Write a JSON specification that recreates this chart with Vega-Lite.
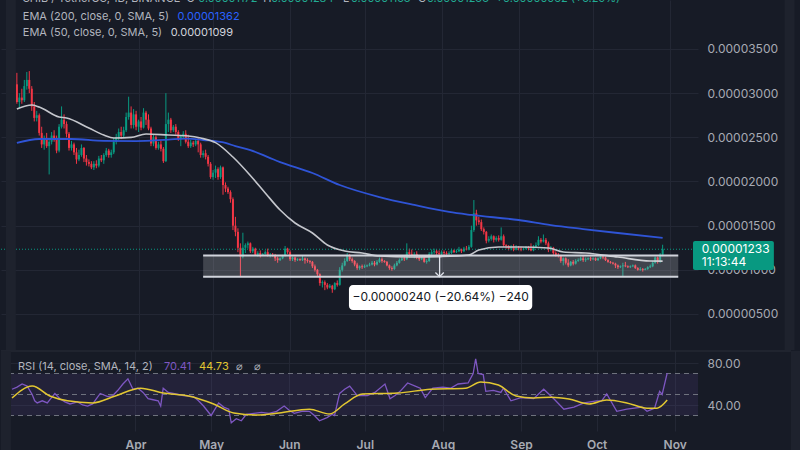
{
"$schema":"https://vega.github.io/schema/vega-lite/v6.json",
"background":"#171b26",
"padding":{"left":0,"top":0,"right":0,"bottom":0},
"spacing":0,
"config":{"view":{"stroke":null},"font":"Inter","concat":{"spacing":0},
 "axis":{"gridColor":"#232734","gridWidth":1,"labelColor":"#a7aab3","labelFont":"Inter","labelFontSize":12,"domain":false,"ticks":false,"labelFlush":false,"labelOverlap":false}},
"datasets":{
"k":[
{"t":"2022-02-11","o":3100e-8,"h":3230e-8,"l":2880e-8,"c":2900e-8},
{"t":"2022-02-12","o":2900e-8,"h":3000e-8,"l":2830e-8,"c":2950e-8},
{"t":"2022-02-13","o":2950e-8,"h":3050e-8,"l":2880e-8,"c":2920e-8},
{"t":"2022-02-14","o":2920e-8,"h":3150e-8,"l":2900e-8,"c":3080e-8},
{"t":"2022-02-15","o":3080e-8,"h":3240e-8,"l":3040e-8,"c":3150e-8},
{"t":"2022-02-16","o":3150e-8,"h":3250e-8,"l":3000e-8,"c":3050e-8},
{"t":"2022-02-17","o":3050e-8,"h":3080e-8,"l":2800e-8,"c":2850e-8},
{"t":"2022-02-18","o":2850e-8,"h":2900e-8,"l":2680e-8,"c":2720e-8},
{"t":"2022-02-19","o":2720e-8,"h":2800e-8,"l":2680e-8,"c":2750e-8},
{"t":"2022-02-20","o":2750e-8,"h":2770e-8,"l":2520e-8,"c":2550e-8},
{"t":"2022-02-21","o":2550e-8,"h":2620e-8,"l":2380e-8,"c":2420e-8},
{"t":"2022-02-22","o":2420e-8,"h":2520e-8,"l":2360e-8,"c":2480e-8},
{"t":"2022-02-23","o":2480e-8,"h":2550e-8,"l":2380e-8,"c":2400e-8},
{"t":"2022-02-24","o":2400e-8,"h":2480e-8,"l":2080e-8,"c":2450e-8},
{"t":"2022-02-25","o":2450e-8,"h":2560e-8,"l":2420e-8,"c":2520e-8},
{"t":"2022-02-26","o":2520e-8,"h":2580e-8,"l":2450e-8,"c":2480e-8},
{"t":"2022-02-27","o":2480e-8,"h":2520e-8,"l":2320e-8,"c":2350e-8},
{"t":"2022-02-28","o":2350e-8,"h":2650e-8,"l":2330e-8,"c":2620e-8},
{"t":"2022-03-01","o":2620e-8,"h":2850e-8,"l":2600e-8,"c":2700e-8},
{"t":"2022-03-02","o":2700e-8,"h":2760e-8,"l":2600e-8,"c":2650e-8},
{"t":"2022-03-03","o":2650e-8,"h":2680e-8,"l":2500e-8,"c":2540e-8},
{"t":"2022-03-04","o":2540e-8,"h":2560e-8,"l":2350e-8,"c":2380e-8},
{"t":"2022-03-05","o":2380e-8,"h":2460e-8,"l":2350e-8,"c":2420e-8},
{"t":"2022-03-06","o":2420e-8,"h":2440e-8,"l":2300e-8,"c":2330e-8},
{"t":"2022-03-07","o":2330e-8,"h":2380e-8,"l":2200e-8,"c":2250e-8},
{"t":"2022-03-08","o":2250e-8,"h":2360e-8,"l":2230e-8,"c":2300e-8},
{"t":"2022-03-09","o":2300e-8,"h":2420e-8,"l":2280e-8,"c":2380e-8},
{"t":"2022-03-10","o":2380e-8,"h":2390e-8,"l":2220e-8,"c":2260e-8},
{"t":"2022-03-11","o":2260e-8,"h":2300e-8,"l":2180e-8,"c":2220e-8},
{"t":"2022-03-12","o":2220e-8,"h":2250e-8,"l":2170e-8,"c":2200e-8},
{"t":"2022-03-13","o":2200e-8,"h":2230e-8,"l":2140e-8,"c":2160e-8},
{"t":"2022-03-14","o":2160e-8,"h":2230e-8,"l":2130e-8,"c":2200e-8},
{"t":"2022-03-15","o":2200e-8,"h":2240e-8,"l":2150e-8,"c":2180e-8},
{"t":"2022-03-16","o":2180e-8,"h":2290e-8,"l":2160e-8,"c":2260e-8},
{"t":"2022-03-17","o":2260e-8,"h":2300e-8,"l":2220e-8,"c":2240e-8},
{"t":"2022-03-18","o":2240e-8,"h":2320e-8,"l":2200e-8,"c":2300e-8},
{"t":"2022-03-19","o":2300e-8,"h":2380e-8,"l":2280e-8,"c":2350e-8},
{"t":"2022-03-20","o":2350e-8,"h":2370e-8,"l":2270e-8,"c":2300e-8},
{"t":"2022-03-21","o":2300e-8,"h":2360e-8,"l":2270e-8,"c":2330e-8},
{"t":"2022-03-22","o":2330e-8,"h":2500e-8,"l":2310e-8,"c":2450e-8},
{"t":"2022-03-23","o":2450e-8,"h":2540e-8,"l":2420e-8,"c":2500e-8},
{"t":"2022-03-24","o":2500e-8,"h":2600e-8,"l":2470e-8,"c":2560e-8},
{"t":"2022-03-25","o":2560e-8,"h":2620e-8,"l":2480e-8,"c":2520e-8},
{"t":"2022-03-26","o":2520e-8,"h":2620e-8,"l":2500e-8,"c":2580e-8},
{"t":"2022-03-27","o":2580e-8,"h":2780e-8,"l":2560e-8,"c":2730e-8},
{"t":"2022-03-28","o":2730e-8,"h":2960e-8,"l":2700e-8,"c":2780e-8},
{"t":"2022-03-29","o":2780e-8,"h":2850e-8,"l":2600e-8,"c":2640e-8},
{"t":"2022-03-30","o":2640e-8,"h":2820e-8,"l":2600e-8,"c":2760e-8},
{"t":"2022-03-31","o":2760e-8,"h":2800e-8,"l":2580e-8,"c":2620e-8},
{"t":"2022-04-01","o":2620e-8,"h":2700e-8,"l":2560e-8,"c":2680e-8},
{"t":"2022-04-02","o":2680e-8,"h":2730e-8,"l":2580e-8,"c":2610e-8},
{"t":"2022-04-03","o":2610e-8,"h":2830e-8,"l":2600e-8,"c":2780e-8},
{"t":"2022-04-04","o":2780e-8,"h":2800e-8,"l":2640e-8,"c":2700e-8},
{"t":"2022-04-05","o":2700e-8,"h":2760e-8,"l":2580e-8,"c":2600e-8},
{"t":"2022-04-06","o":2600e-8,"h":2620e-8,"l":2400e-8,"c":2430e-8},
{"t":"2022-04-07","o":2430e-8,"h":2530e-8,"l":2400e-8,"c":2500e-8},
{"t":"2022-04-08","o":2500e-8,"h":2520e-8,"l":2360e-8,"c":2380e-8},
{"t":"2022-04-09","o":2380e-8,"h":2450e-8,"l":2360e-8,"c":2420e-8},
{"t":"2022-04-10","o":2420e-8,"h":2460e-8,"l":2340e-8,"c":2370e-8},
{"t":"2022-04-11","o":2370e-8,"h":2390e-8,"l":2210e-8,"c":2230e-8},
{"t":"2022-04-12","o":2230e-8,"h":3000e-8,"l":2220e-8,"c":2650e-8},
{"t":"2022-04-13","o":2650e-8,"h":2780e-8,"l":2560e-8,"c":2700e-8},
{"t":"2022-04-14","o":2700e-8,"h":2720e-8,"l":2550e-8,"c":2580e-8},
{"t":"2022-04-15","o":2580e-8,"h":2640e-8,"l":2560e-8,"c":2620e-8},
{"t":"2022-04-16","o":2620e-8,"h":2650e-8,"l":2530e-8,"c":2560e-8},
{"t":"2022-04-17","o":2560e-8,"h":2580e-8,"l":2460e-8,"c":2480e-8},
{"t":"2022-04-18","o":2480e-8,"h":2530e-8,"l":2400e-8,"c":2510e-8},
{"t":"2022-04-19","o":2510e-8,"h":2570e-8,"l":2490e-8,"c":2540e-8},
{"t":"2022-04-20","o":2540e-8,"h":2580e-8,"l":2430e-8,"c":2450e-8},
{"t":"2022-04-21","o":2450e-8,"h":2530e-8,"l":2380e-8,"c":2400e-8},
{"t":"2022-04-22","o":2400e-8,"h":2470e-8,"l":2380e-8,"c":2440e-8},
{"t":"2022-04-23","o":2440e-8,"h":2460e-8,"l":2390e-8,"c":2420e-8},
{"t":"2022-04-24","o":2420e-8,"h":2480e-8,"l":2400e-8,"c":2460e-8},
{"t":"2022-04-25","o":2460e-8,"h":2500e-8,"l":2330e-8,"c":2420e-8},
{"t":"2022-04-26","o":2420e-8,"h":2440e-8,"l":2270e-8,"c":2300e-8},
{"t":"2022-04-27","o":2300e-8,"h":2350e-8,"l":2270e-8,"c":2320e-8},
{"t":"2022-04-28","o":2320e-8,"h":2360e-8,"l":2250e-8,"c":2280e-8},
{"t":"2022-04-29","o":2280e-8,"h":2300e-8,"l":2170e-8,"c":2200e-8},
{"t":"2022-04-30","o":2200e-8,"h":2220e-8,"l":2030e-8,"c":2050e-8},
{"t":"2022-05-01","o":2050e-8,"h":2130e-8,"l":2020e-8,"c":2100e-8},
{"t":"2022-05-02","o":2100e-8,"h":2180e-8,"l":2040e-8,"c":2140e-8},
{"t":"2022-05-03","o":2140e-8,"h":2160e-8,"l":2020e-8,"c":2050e-8},
{"t":"2022-05-04","o":2050e-8,"h":2180e-8,"l":2030e-8,"c":2160e-8},
{"t":"2022-05-05","o":2160e-8,"h":2170e-8,"l":1850e-8,"c":1960e-8},
{"t":"2022-05-06","o":1960e-8,"h":1990e-8,"l":1880e-8,"c":1920e-8},
{"t":"2022-05-07","o":1920e-8,"h":1940e-8,"l":1860e-8,"c":1880e-8},
{"t":"2022-05-08","o":1880e-8,"h":1900e-8,"l":1760e-8,"c":1800e-8},
{"t":"2022-05-09","o":1800e-8,"h":1820e-8,"l":1450e-8,"c":1500e-8},
{"t":"2022-05-10","o":1500e-8,"h":1600e-8,"l":1380e-8,"c":1430e-8},
{"t":"2022-05-11","o":1430e-8,"h":1470e-8,"l":1200e-8,"c":1250e-8},
{"t":"2022-05-12","o":1250e-8,"h":1300e-8,"l":920e-8,"c":1150e-8},
{"t":"2022-05-13","o":1150e-8,"h":1420e-8,"l":1130e-8,"c":1250e-8},
{"t":"2022-05-14","o":1250e-8,"h":1300e-8,"l":1190e-8,"c":1280e-8},
{"t":"2022-05-15","o":1280e-8,"h":1320e-8,"l":1240e-8,"c":1300e-8},
{"t":"2022-05-16","o":1300e-8,"h":1310e-8,"l":1190e-8,"c":1210e-8},
{"t":"2022-05-17","o":1210e-8,"h":1260e-8,"l":1190e-8,"c":1240e-8},
{"t":"2022-05-18","o":1240e-8,"h":1250e-8,"l":1160e-8,"c":1170e-8},
{"t":"2022-05-19","o":1170e-8,"h":1210e-8,"l":1150e-8,"c":1190e-8},
{"t":"2022-05-20","o":1190e-8,"h":1220e-8,"l":1140e-8,"c":1170e-8},
{"t":"2022-05-21","o":1170e-8,"h":1190e-8,"l":1160e-8,"c":1180e-8},
{"t":"2022-05-22","o":1180e-8,"h":1220e-8,"l":1170e-8,"c":1200e-8},
{"t":"2022-05-23","o":1200e-8,"h":1240e-8,"l":1150e-8,"c":1160e-8},
{"t":"2022-05-24","o":1160e-8,"h":1190e-8,"l":1140e-8,"c":1170e-8},
{"t":"2022-05-25","o":1170e-8,"h":1190e-8,"l":1150e-8,"c":1160e-8},
{"t":"2022-05-26","o":1160e-8,"h":1180e-8,"l":1100e-8,"c":1130e-8},
{"t":"2022-05-27","o":1130e-8,"h":1150e-8,"l":1080e-8,"c":1110e-8},
{"t":"2022-05-28","o":1110e-8,"h":1140e-8,"l":1100e-8,"c":1130e-8},
{"t":"2022-05-29","o":1130e-8,"h":1170e-8,"l":1120e-8,"c":1160e-8},
{"t":"2022-05-30","o":1160e-8,"h":1270e-8,"l":1150e-8,"c":1240e-8},
{"t":"2022-05-31","o":1240e-8,"h":1250e-8,"l":1180e-8,"c":1200e-8},
{"t":"2022-06-01","o":1200e-8,"h":1220e-8,"l":1100e-8,"c":1120e-8},
{"t":"2022-06-02","o":1120e-8,"h":1150e-8,"l":1100e-8,"c":1140e-8},
{"t":"2022-06-03","o":1140e-8,"h":1150e-8,"l":1090e-8,"c":1110e-8},
{"t":"2022-06-04","o":1110e-8,"h":1130e-8,"l":1100e-8,"c":1120e-8},
{"t":"2022-06-05","o":1120e-8,"h":1130e-8,"l":1100e-8,"c":1110e-8},
{"t":"2022-06-06","o":1110e-8,"h":1160e-8,"l":1100e-8,"c":1130e-8},
{"t":"2022-06-07","o":1130e-8,"h":1140e-8,"l":1070e-8,"c":1110e-8},
{"t":"2022-06-08","o":1110e-8,"h":1130e-8,"l":1080e-8,"c":1100e-8},
{"t":"2022-06-09","o":1100e-8,"h":1110e-8,"l":1070e-8,"c":1090e-8},
{"t":"2022-06-10","o":1090e-8,"h":1100e-8,"l":1020e-8,"c":1040e-8},
{"t":"2022-06-11","o":1040e-8,"h":1060e-8,"l":980e-8,"c":1000e-8},
{"t":"2022-06-12","o":1000e-8,"h":1010e-8,"l":930e-8,"c":950e-8},
{"t":"2022-06-13","o":950e-8,"h":960e-8,"l":820e-8,"c":850e-8},
{"t":"2022-06-14","o":850e-8,"h":880e-8,"l":800e-8,"c":860e-8},
{"t":"2022-06-15","o":860e-8,"h":880e-8,"l":770e-8,"c":830e-8},
{"t":"2022-06-16","o":830e-8,"h":850e-8,"l":780e-8,"c":800e-8},
{"t":"2022-06-17","o":800e-8,"h":840e-8,"l":790e-8,"c":820e-8},
{"t":"2022-06-18","o":820e-8,"h":830e-8,"l":740e-8,"c":780e-8},
{"t":"2022-06-19","o":780e-8,"h":860e-8,"l":770e-8,"c":850e-8},
{"t":"2022-06-20","o":850e-8,"h":880e-8,"l":810e-8,"c":830e-8},
{"t":"2022-06-21","o":830e-8,"h":1030e-8,"l":820e-8,"c":1000e-8},
{"t":"2022-06-22","o":1000e-8,"h":1080e-8,"l":980e-8,"c":1050e-8},
{"t":"2022-06-23","o":1050e-8,"h":1130e-8,"l":1040e-8,"c":1100e-8},
{"t":"2022-06-24","o":1100e-8,"h":1190e-8,"l":1090e-8,"c":1160e-8},
{"t":"2022-06-25","o":1160e-8,"h":1180e-8,"l":1100e-8,"c":1120e-8},
{"t":"2022-06-26","o":1120e-8,"h":1140e-8,"l":1080e-8,"c":1100e-8},
{"t":"2022-06-27","o":1100e-8,"h":1110e-8,"l":1040e-8,"c":1060e-8},
{"t":"2022-06-28","o":1060e-8,"h":1080e-8,"l":1000e-8,"c":1020e-8},
{"t":"2022-06-29","o":1020e-8,"h":1050e-8,"l":1000e-8,"c":1040e-8},
{"t":"2022-06-30","o":1040e-8,"h":1060e-8,"l":1010e-8,"c":1030e-8},
{"t":"2022-07-01","o":1030e-8,"h":1060e-8,"l":1020e-8,"c":1040e-8},
{"t":"2022-07-02","o":1040e-8,"h":1060e-8,"l":1030e-8,"c":1050e-8},
{"t":"2022-07-03","o":1050e-8,"h":1080e-8,"l":1040e-8,"c":1060e-8},
{"t":"2022-07-04","o":1060e-8,"h":1100e-8,"l":1050e-8,"c":1080e-8},
{"t":"2022-07-05","o":1080e-8,"h":1100e-8,"l":1040e-8,"c":1060e-8},
{"t":"2022-07-06","o":1060e-8,"h":1110e-8,"l":1050e-8,"c":1090e-8},
{"t":"2022-07-07","o":1090e-8,"h":1140e-8,"l":1080e-8,"c":1120e-8},
{"t":"2022-07-08","o":1120e-8,"h":1140e-8,"l":1080e-8,"c":1100e-8},
{"t":"2022-07-09","o":1100e-8,"h":1110e-8,"l":1080e-8,"c":1090e-8},
{"t":"2022-07-10","o":1090e-8,"h":1100e-8,"l":1040e-8,"c":1050e-8},
{"t":"2022-07-11","o":1050e-8,"h":1060e-8,"l":1000e-8,"c":1020e-8},
{"t":"2022-07-12","o":1020e-8,"h":1040e-8,"l":990e-8,"c":1010e-8},
{"t":"2022-07-13","o":1010e-8,"h":1070e-8,"l":1000e-8,"c":1050e-8},
{"t":"2022-07-14","o":1050e-8,"h":1100e-8,"l":1040e-8,"c":1080e-8},
{"t":"2022-07-15","o":1080e-8,"h":1130e-8,"l":1070e-8,"c":1110e-8},
{"t":"2022-07-16","o":1110e-8,"h":1150e-8,"l":1100e-8,"c":1130e-8},
{"t":"2022-07-17","o":1130e-8,"h":1160e-8,"l":1100e-8,"c":1120e-8},
{"t":"2022-07-18","o":1120e-8,"h":1300e-8,"l":1110e-8,"c":1200e-8},
{"t":"2022-07-19","o":1200e-8,"h":1240e-8,"l":1140e-8,"c":1180e-8},
{"t":"2022-07-20","o":1180e-8,"h":1230e-8,"l":1150e-8,"c":1170e-8},
{"t":"2022-07-21","o":1170e-8,"h":1200e-8,"l":1130e-8,"c":1180e-8},
{"t":"2022-07-22","o":1180e-8,"h":1210e-8,"l":1120e-8,"c":1140e-8},
{"t":"2022-07-23","o":1140e-8,"h":1160e-8,"l":1100e-8,"c":1120e-8},
{"t":"2022-07-24","o":1120e-8,"h":1160e-8,"l":1110e-8,"c":1140e-8},
{"t":"2022-07-25","o":1140e-8,"h":1150e-8,"l":1080e-8,"c":1090e-8},
{"t":"2022-07-26","o":1090e-8,"h":1120e-8,"l":1070e-8,"c":1100e-8},
{"t":"2022-07-27","o":1100e-8,"h":1200e-8,"l":1090e-8,"c":1180e-8},
{"t":"2022-07-28","o":1180e-8,"h":1230e-8,"l":1170e-8,"c":1200e-8},
{"t":"2022-07-29","o":1200e-8,"h":1240e-8,"l":1180e-8,"c":1210e-8},
{"t":"2022-07-30","o":1210e-8,"h":1230e-8,"l":1170e-8,"c":1190e-8},
{"t":"2022-07-31","o":1190e-8,"h":1220e-8,"l":1160e-8,"c":1180e-8},
{"t":"2022-08-01","o":1180e-8,"h":1220e-8,"l":1160e-8,"c":1200e-8},
{"t":"2022-08-02","o":1200e-8,"h":1220e-8,"l":1150e-8,"c":1190e-8},
{"t":"2022-08-03","o":1190e-8,"h":1210e-8,"l":1170e-8,"c":1180e-8},
{"t":"2022-08-04","o":1180e-8,"h":1210e-8,"l":1170e-8,"c":1190e-8},
{"t":"2022-08-05","o":1190e-8,"h":1240e-8,"l":1180e-8,"c":1220e-8},
{"t":"2022-08-06","o":1220e-8,"h":1230e-8,"l":1190e-8,"c":1200e-8},
{"t":"2022-08-07","o":1200e-8,"h":1230e-8,"l":1190e-8,"c":1210e-8},
{"t":"2022-08-08","o":1210e-8,"h":1260e-8,"l":1200e-8,"c":1230e-8},
{"t":"2022-08-09","o":1230e-8,"h":1240e-8,"l":1190e-8,"c":1210e-8},
{"t":"2022-08-10","o":1210e-8,"h":1260e-8,"l":1200e-8,"c":1240e-8},
{"t":"2022-08-11","o":1240e-8,"h":1270e-8,"l":1220e-8,"c":1230e-8},
{"t":"2022-08-12","o":1230e-8,"h":1280e-8,"l":1220e-8,"c":1260e-8},
{"t":"2022-08-13","o":1260e-8,"h":1500e-8,"l":1250e-8,"c":1450e-8},
{"t":"2022-08-14","o":1450e-8,"h":1790e-8,"l":1430e-8,"c":1640e-8},
{"t":"2022-08-15","o":1640e-8,"h":1680e-8,"l":1500e-8,"c":1560e-8},
{"t":"2022-08-16","o":1560e-8,"h":1600e-8,"l":1510e-8,"c":1540e-8},
{"t":"2022-08-17","o":1540e-8,"h":1570e-8,"l":1440e-8,"c":1460e-8},
{"t":"2022-08-18","o":1460e-8,"h":1480e-8,"l":1400e-8,"c":1430e-8},
{"t":"2022-08-19","o":1430e-8,"h":1440e-8,"l":1300e-8,"c":1330e-8},
{"t":"2022-08-20","o":1330e-8,"h":1380e-8,"l":1310e-8,"c":1350e-8},
{"t":"2022-08-21","o":1350e-8,"h":1400e-8,"l":1330e-8,"c":1380e-8},
{"t":"2022-08-22","o":1380e-8,"h":1390e-8,"l":1310e-8,"c":1340e-8},
{"t":"2022-08-23","o":1340e-8,"h":1380e-8,"l":1320e-8,"c":1360e-8},
{"t":"2022-08-24","o":1360e-8,"h":1390e-8,"l":1320e-8,"c":1340e-8},
{"t":"2022-08-25","o":1340e-8,"h":1480e-8,"l":1330e-8,"c":1380e-8},
{"t":"2022-08-26","o":1380e-8,"h":1400e-8,"l":1260e-8,"c":1280e-8},
{"t":"2022-08-27","o":1280e-8,"h":1290e-8,"l":1240e-8,"c":1270e-8},
{"t":"2022-08-28","o":1270e-8,"h":1280e-8,"l":1220e-8,"c":1240e-8},
{"t":"2022-08-29","o":1240e-8,"h":1280e-8,"l":1220e-8,"c":1260e-8},
{"t":"2022-08-30","o":1260e-8,"h":1290e-8,"l":1210e-8,"c":1230e-8},
{"t":"2022-08-31","o":1230e-8,"h":1280e-8,"l":1220e-8,"c":1250e-8},
{"t":"2022-09-01","o":1250e-8,"h":1270e-8,"l":1220e-8,"c":1240e-8},
{"t":"2022-09-02","o":1240e-8,"h":1260e-8,"l":1210e-8,"c":1230e-8},
{"t":"2022-09-03","o":1230e-8,"h":1250e-8,"l":1220e-8,"c":1240e-8},
{"t":"2022-09-04","o":1240e-8,"h":1270e-8,"l":1230e-8,"c":1260e-8},
{"t":"2022-09-05","o":1260e-8,"h":1270e-8,"l":1220e-8,"c":1240e-8},
{"t":"2022-09-06","o":1240e-8,"h":1300e-8,"l":1210e-8,"c":1220e-8},
{"t":"2022-09-07","o":1220e-8,"h":1280e-8,"l":1210e-8,"c":1260e-8},
{"t":"2022-09-08","o":1260e-8,"h":1310e-8,"l":1250e-8,"c":1280e-8},
{"t":"2022-09-09","o":1280e-8,"h":1380e-8,"l":1270e-8,"c":1340e-8},
{"t":"2022-09-10","o":1340e-8,"h":1360e-8,"l":1300e-8,"c":1320e-8},
{"t":"2022-09-11","o":1320e-8,"h":1400e-8,"l":1310e-8,"c":1340e-8},
{"t":"2022-09-12","o":1340e-8,"h":1360e-8,"l":1280e-8,"c":1300e-8},
{"t":"2022-09-13","o":1300e-8,"h":1320e-8,"l":1200e-8,"c":1230e-8},
{"t":"2022-09-14","o":1230e-8,"h":1270e-8,"l":1210e-8,"c":1250e-8},
{"t":"2022-09-15","o":1250e-8,"h":1260e-8,"l":1170e-8,"c":1190e-8},
{"t":"2022-09-16","o":1190e-8,"h":1210e-8,"l":1150e-8,"c":1170e-8},
{"t":"2022-09-17","o":1170e-8,"h":1190e-8,"l":1140e-8,"c":1160e-8},
{"t":"2022-09-18","o":1160e-8,"h":1170e-8,"l":1080e-8,"c":1100e-8},
{"t":"2022-09-19","o":1100e-8,"h":1140e-8,"l":1050e-8,"c":1130e-8},
{"t":"2022-09-20","o":1130e-8,"h":1140e-8,"l":1060e-8,"c":1080e-8},
{"t":"2022-09-21","o":1080e-8,"h":1120e-8,"l":1030e-8,"c":1050e-8},
{"t":"2022-09-22","o":1050e-8,"h":1100e-8,"l":1040e-8,"c":1090e-8},
{"t":"2022-09-23","o":1090e-8,"h":1110e-8,"l":1050e-8,"c":1070e-8},
{"t":"2022-09-24","o":1070e-8,"h":1120e-8,"l":1060e-8,"c":1100e-8},
{"t":"2022-09-25","o":1100e-8,"h":1130e-8,"l":1090e-8,"c":1110e-8},
{"t":"2022-09-26","o":1110e-8,"h":1150e-8,"l":1100e-8,"c":1130e-8},
{"t":"2022-09-27","o":1130e-8,"h":1160e-8,"l":1090e-8,"c":1110e-8},
{"t":"2022-09-28","o":1110e-8,"h":1140e-8,"l":1090e-8,"c":1120e-8},
{"t":"2022-09-29","o":1120e-8,"h":1140e-8,"l":1110e-8,"c":1130e-8},
{"t":"2022-09-30","o":1130e-8,"h":1150e-8,"l":1100e-8,"c":1120e-8},
{"t":"2022-10-01","o":1120e-8,"h":1140e-8,"l":1110e-8,"c":1130e-8},
{"t":"2022-10-02","o":1130e-8,"h":1140e-8,"l":1100e-8,"c":1110e-8},
{"t":"2022-10-03","o":1110e-8,"h":1140e-8,"l":1100e-8,"c":1130e-8},
{"t":"2022-10-04","o":1130e-8,"h":1170e-8,"l":1120e-8,"c":1150e-8},
{"t":"2022-10-05","o":1150e-8,"h":1160e-8,"l":1120e-8,"c":1140e-8},
{"t":"2022-10-06","o":1140e-8,"h":1150e-8,"l":1100e-8,"c":1110e-8},
{"t":"2022-10-07","o":1110e-8,"h":1120e-8,"l":1080e-8,"c":1090e-8},
{"t":"2022-10-08","o":1090e-8,"h":1100e-8,"l":1070e-8,"c":1080e-8},
{"t":"2022-10-09","o":1080e-8,"h":1090e-8,"l":1060e-8,"c":1070e-8},
{"t":"2022-10-10","o":1070e-8,"h":1080e-8,"l":1020e-8,"c":1050e-8},
{"t":"2022-10-11","o":1050e-8,"h":1060e-8,"l":1010e-8,"c":1030e-8},
{"t":"2022-10-12","o":1030e-8,"h":1050e-8,"l":1020e-8,"c":1040e-8},
{"t":"2022-10-13","o":1040e-8,"h":1080e-8,"l":930e-8,"c":1050e-8},
{"t":"2022-10-14","o":1050e-8,"h":1090e-8,"l":1030e-8,"c":1040e-8},
{"t":"2022-10-15","o":1040e-8,"h":1050e-8,"l":1020e-8,"c":1030e-8},
{"t":"2022-10-16","o":1030e-8,"h":1050e-8,"l":1020e-8,"c":1040e-8},
{"t":"2022-10-17","o":1040e-8,"h":1060e-8,"l":1030e-8,"c":1050e-8},
{"t":"2022-10-18","o":1050e-8,"h":1060e-8,"l":1010e-8,"c":1020e-8},
{"t":"2022-10-19","o":1020e-8,"h":1030e-8,"l":990e-8,"c":1000e-8},
{"t":"2022-10-20","o":1000e-8,"h":1030e-8,"l":990e-8,"c":1010e-8},
{"t":"2022-10-21","o":1010e-8,"h":1020e-8,"l":980e-8,"c":1000e-8},
{"t":"2022-10-22","o":1000e-8,"h":1020e-8,"l":995e-8,"c":1010e-8},
{"t":"2022-10-23","o":1010e-8,"h":1040e-8,"l":1000e-8,"c":1030e-8},
{"t":"2022-10-24","o":1030e-8,"h":1060e-8,"l":1020e-8,"c":1040e-8},
{"t":"2022-10-25","o":1040e-8,"h":1100e-8,"l":1030e-8,"c":1080e-8},
{"t":"2022-10-26","o":1080e-8,"h":1150e-8,"l":1070e-8,"c":1140e-8},
{"t":"2022-10-27","o":1140e-8,"h":1150e-8,"l":1070e-8,"c":1090e-8},
{"t":"2022-10-28","o":1090e-8,"h":1190e-8,"l":1080e-8,"c":1172e-8},
{"t":"2022-10-29","o":1172e-8,"h":1284e-8,"l":1153e-8,"c":1233e-8}
],
"e200":[
{"t":"2022-02-11","v":2436e-8},{"t":"2022-02-20","v":2481e-8},{"t":"2022-03-05","v":2481e-8},{"t":"2022-03-18","v":2460e-8},{"t":"2022-03-31","v":2458e-8},{"t":"2022-04-13","v":2475e-8},{"t":"2022-04-20","v":2485e-8},{"t":"2022-04-27","v":2470e-8},{"t":"2022-05-06","v":2436e-8},{"t":"2022-05-10","v":2400e-8},{"t":"2022-05-16","v":2356e-8},{"t":"2022-05-24","v":2265e-8},{"t":"2022-05-28","v":2220e-8},{"t":"2022-06-10","v":2096e-8},{"t":"2022-06-21","v":1960e-8},{"t":"2022-07-07","v":1824e-8},{"t":"2022-07-21","v":1734e-8},{"t":"2022-08-04","v":1655e-8},{"t":"2022-08-13","v":1621e-8},{"t":"2022-09-01","v":1564e-8},{"t":"2022-09-14","v":1507e-8},{"t":"2022-09-27","v":1462e-8},{"t":"2022-10-11","v":1417e-8},{"t":"2022-10-29","v":1362e-8}
],
"e50":[
{"t":"2022-02-11","v":2821e-8},{"t":"2022-02-17","v":2866e-8},{"t":"2022-02-20","v":2843e-8},{"t":"2022-02-28","v":2730e-8},{"t":"2022-03-03","v":2719e-8},{"t":"2022-03-12","v":2605e-8},{"t":"2022-03-18","v":2526e-8},{"t":"2022-03-22","v":2492e-8},{"t":"2022-03-29","v":2500e-8},{"t":"2022-04-04","v":2538e-8},{"t":"2022-04-13","v":2526e-8},{"t":"2022-04-21","v":2515e-8},{"t":"2022-04-26","v":2492e-8},{"t":"2022-05-02","v":2440e-8},{"t":"2022-05-09","v":2277e-8},{"t":"2022-05-16","v":2068e-8},{"t":"2022-05-22","v":1870e-8},{"t":"2022-05-28","v":1677e-8},{"t":"2022-06-03","v":1530e-8},{"t":"2022-06-10","v":1417e-8},{"t":"2022-06-16","v":1281e-8},{"t":"2022-06-23","v":1213e-8},{"t":"2022-06-30","v":1190e-8},{"t":"2022-07-07","v":1156e-8},{"t":"2022-07-20","v":1145e-8},{"t":"2022-08-01","v":1150e-8},{"t":"2022-08-12","v":1168e-8},{"t":"2022-08-16","v":1224e-8},{"t":"2022-08-24","v":1258e-8},{"t":"2022-09-02","v":1258e-8},{"t":"2022-09-13","v":1247e-8},{"t":"2022-09-19","v":1202e-8},{"t":"2022-09-28","v":1190e-8},{"t":"2022-10-11","v":1145e-8},{"t":"2022-10-24","v":1100e-8},{"t":"2022-10-29","v":1099e-8}
],
"rsi":[
{"t":"2022-02-11","r":55},{"t":"2022-02-13","r":57},{"t":"2022-02-15","r":60},{"t":"2022-02-17","r":58},{"t":"2022-02-19","r":50},{"t":"2022-02-20","r":44},{"t":"2022-02-21","r":42},{"t":"2022-02-23","r":44},{"t":"2022-02-25","r":42},{"t":"2022-02-28","r":51},{"t":"2022-03-02","r":46},{"t":"2022-03-04","r":43},{"t":"2022-03-06","r":41},{"t":"2022-03-09","r":43},{"t":"2022-03-11","r":40},{"t":"2022-03-13","r":39},{"t":"2022-03-15","r":41},{"t":"2022-03-18","r":51},{"t":"2022-03-21","r":48},{"t":"2022-03-23","r":49},{"t":"2022-03-25","r":54},{"t":"2022-03-27","r":60},{"t":"2022-03-29","r":65},{"t":"2022-03-31","r":55},{"t":"2022-04-02","r":56},{"t":"2022-04-04","r":52},{"t":"2022-04-06","r":46},{"t":"2022-04-08","r":45},{"t":"2022-04-10","r":44},{"t":"2022-04-11","r":39},{"t":"2022-04-12","r":56},{"t":"2022-04-14","r":52},{"t":"2022-04-18","r":50},{"t":"2022-04-20","r":49},{"t":"2022-04-24","r":48},{"t":"2022-04-26","r":44},{"t":"2022-04-28","r":39},{"t":"2022-05-01","r":30},{"t":"2022-05-04","r":42},{"t":"2022-05-06","r":38},{"t":"2022-05-08","r":36},{"t":"2022-05-09","r":23},{"t":"2022-05-11","r":27},{"t":"2022-05-13","r":25},{"t":"2022-05-15","r":31},{"t":"2022-05-18","r":32},{"t":"2022-05-21","r":33},{"t":"2022-05-24","r":32},{"t":"2022-05-27","r":34},{"t":"2022-05-30","r":39},{"t":"2022-06-01","r":35},{"t":"2022-06-03","r":32},{"t":"2022-06-06","r":34},{"t":"2022-06-09","r":34},{"t":"2022-06-11","r":30},{"t":"2022-06-13","r":25},{"t":"2022-06-16","r":28},{"t":"2022-06-18","r":31},{"t":"2022-06-19","r":30},{"t":"2022-06-21","r":51},{"t":"2022-06-23","r":55},{"t":"2022-06-25","r":58},{"t":"2022-06-27","r":52},{"t":"2022-06-28","r":49},{"t":"2022-07-02","r":49},{"t":"2022-07-05","r":52},{"t":"2022-07-09","r":60},{"t":"2022-07-11","r":46},{"t":"2022-07-13","r":49},{"t":"2022-07-15","r":53},{"t":"2022-07-18","r":61},{"t":"2022-07-21","r":58},{"t":"2022-07-23","r":56},{"t":"2022-07-25","r":47},{"t":"2022-07-28","r":56},{"t":"2022-08-01","r":57},{"t":"2022-08-04","r":56},{"t":"2022-08-07","r":60},{"t":"2022-08-11","r":61},{"t":"2022-08-13","r":70},{"t":"2022-08-14","r":84},{"t":"2022-08-15","r":70},{"t":"2022-08-17","r":69},{"t":"2022-08-18","r":53},{"t":"2022-08-21","r":54},{"t":"2022-08-24","r":52},{"t":"2022-08-25","r":56},{"t":"2022-08-28","r":44},{"t":"2022-09-01","r":47},{"t":"2022-09-06","r":46},{"t":"2022-09-10","r":55},{"t":"2022-09-14","r":46},{"t":"2022-09-18","r":36},{"t":"2022-09-22","r":38},{"t":"2022-09-26","r":42},{"t":"2022-10-01","r":44},{"t":"2022-10-03","r":44},{"t":"2022-10-05","r":50.5},{"t":"2022-10-09","r":34},{"t":"2022-10-13","r":36},{"t":"2022-10-16","r":37},{"t":"2022-10-19","r":38},{"t":"2022-10-21","r":34},{"t":"2022-10-24","r":37},{"t":"2022-10-26","r":53},{"t":"2022-10-27","r":50},{"t":"2022-10-29","r":70.41}
],
"rsma":[
{"t":"2022-02-11","r":46.7},{"t":"2022-02-19","r":58},{"t":"2022-02-26","r":48.6},{"t":"2022-03-05","r":44},{"t":"2022-03-15","r":42},{"t":"2022-03-24","r":48.6},{"t":"2022-04-03","r":56},{"t":"2022-04-12","r":51.4},{"t":"2022-04-22","r":48.6},{"t":"2022-05-02","r":41},{"t":"2022-05-10","r":32.4},{"t":"2022-05-19","r":30.5},{"t":"2022-05-28","r":32.4},{"t":"2022-06-09","r":36},{"t":"2022-06-17","r":31.4},{"t":"2022-06-23","r":41},{"t":"2022-06-30","r":50.5},{"t":"2022-07-14","r":51.4},{"t":"2022-07-27","r":55},{"t":"2022-08-10","r":56},{"t":"2022-08-16","r":62},{"t":"2022-08-23","r":59},{"t":"2022-08-30","r":48.6},{"t":"2022-09-06","r":46.7},{"t":"2022-09-13","r":47.5},{"t":"2022-09-20","r":45.7},{"t":"2022-09-28","r":41},{"t":"2022-10-05","r":44.8},{"t":"2022-10-13","r":42},{"t":"2022-10-21","r":37},{"t":"2022-10-25","r":37},{"t":"2022-10-29","r":44.73}
],
"hdr":[
{"t":"2022-02-13T09:00Z","p":4.07e-5,"s":"SHIB / TetherUS, 1D, BINANCE","k":"g"},
{"t":"2022-04-20T06:00Z","p":4.07e-5,"s":"O","k":"g"},
{"t":"2022-04-25T00:30Z","p":4.07e-5,"s":"0.00001172","k":"u"},
{"t":"2022-05-21T05:00Z","p":4.07e-5,"s":"H","k":"g"},
{"t":"2022-05-24T09:00Z","p":4.07e-5,"s":"0.00001284","k":"u"},
{"t":"2022-06-22T08:00Z","p":4.07e-5,"s":"L","k":"g"},
{"t":"2022-06-25T12:00Z","p":4.07e-5,"s":"0.00001153","k":"u"},
{"t":"2022-07-22T12:00Z","p":4.07e-5,"s":"C","k":"g"},
{"t":"2022-07-26T02:00Z","p":4.07e-5,"s":"0.00001233","k":"u"},
{"t":"2022-08-22T20:00Z","p":4.07e-5,"s":"+0.00000062 (+5.29%)","k":"u"},
{"t":"2022-02-13T09:00Z","p":3.862e-5,"s":"EMA (200, close, 0, SMA, 5)","k":"g"},
{"t":"2022-04-16T16:00Z","p":3.862e-5,"s":"0.00001362","k":"b"},
{"t":"2022-02-13T09:00Z","p":3.681e-5,"s":"EMA (50, close, 0, SMA, 5)","k":"g"},
{"t":"2022-04-13T22:00Z","p":3.681e-5,"s":"0.00001099","k":"w"}
],
"rh":[
{"t":"2022-02-13T09:00Z","p":76.2,"s":"RSI (14, close, SMA, 14, 2)","k":"g"},
{"t":"2022-04-12T07:00Z","p":76.2,"s":"70.41","k":"p"},
{"t":"2022-04-26T05:00Z","p":76.2,"s":"44.73","k":"y"},
{"t":"2022-05-10T21:00Z","p":76.2,"s":"⌀","k":"g"},
{"t":"2022-05-18T01:00Z","p":76.2,"s":"⌀","k":"g"}
],
"box":[{"a":"2022-04-27T00:00Z","b":"2022-11-04T07:00Z","m":"2022-07-31T05:00Z","hi":1.1628e-5,"lo":9.228e-6}],
"lab":[{"a":"2022-06-24T17:00Z","b":"2022-09-06T12:00Z","m":"2022-07-31T15:00Z","lo":5.45e-6,"hi":8.28e-6,"p":6.87e-6,"s":"−0.00000240 (−20.64%) −240"}],
"tag":[{"a":"2022-11-10T05:30Z","b":"2022-12-12T19:00Z","m":"2022-11-13T19:00Z","lo":9.98e-6,"hi":1.326e-5,"p":1.233e-5,"q":1.09e-5,"s":"0.00001233","u":"11:13:44"}],
"lv":[{"v":70},{"v":50},{"v":30}]
},
"vconcat":[
{
"width":697,"height":350,
"layer":[
{"data":{"name":"k"},"mark":{"type":"rule","strokeWidth":1},
 "encoding":{
  "x":{"field":"t","type":"temporal","title":null,"scale":{"type":"utc","nice":false,"domain":[{"year":2022,"month":2,"date":6,"hours":15,"utc":true},{"year":2022,"month":11,"date":10,"hours":5,"minutes":30,"utc":true}]},
   "axis":{"values":[{"year":2022,"month":4,"date":1,"utc":true},{"year":2022,"month":5,"date":1,"utc":true},{"year":2022,"month":6,"date":1,"utc":true},{"year":2022,"month":7,"date":1,"utc":true},{"year":2022,"month":8,"date":1,"utc":true},{"year":2022,"month":9,"date":1,"utc":true},{"year":2022,"month":10,"date":1,"utc":true},{"year":2022,"month":11,"date":1,"utc":true}],"labels":false,"grid":true,"title":null}},
  "y":{"field":"l","type":"quantitative","title":null,"scale":{"domain":[9.24e-7,4.0547e-5],"nice":false,"zero":false},
   "axis":{"orient":"right","values":[5e-6,1e-5,1.5e-5,2e-5,2.5e-5,3e-5,3.5e-5],"format":".8f","grid":true,"labelPadding":9,"title":null}},
  "y2":{"field":"h"},
  "color":{"condition":{"test":"datum.c>=datum.o","value":"#089981"},"value":"#f23645"}}},
{"data":{"values":[{}]},"mark":{"type":"rule","color":"#089981","strokeDash":[1,2],"strokeWidth":1},
 "encoding":{"y":{"datum":1.233e-5,"type":"quantitative"}}},
{"data":{"name":"k"},"mark":{"type":"bar","width":2},
 "encoding":{"x":{"field":"t","type":"temporal","title":null},"y":{"field":"o","type":"quantitative","title":null},"y2":{"field":"c"},
  "color":{"condition":{"test":"datum.c>=datum.o","value":"#089981"},"value":"#f23645"}}},
{"data":{"name":"e200"},"mark":{"type":"line","color":"#2f54d6","strokeWidth":1.8,"interpolate":"monotone"},
 "encoding":{"x":{"field":"t","type":"temporal","title":null},"y":{"field":"v","type":"quantitative","title":null}}},
{"data":{"name":"e50"},"mark":{"type":"line","color":"#c4c6cc","strokeWidth":1.6,"interpolate":"monotone"},
 "encoding":{"x":{"field":"t","type":"temporal","title":null},"y":{"field":"v","type":"quantitative","title":null}}},
{"data":{"name":"box"},"mark":{"type":"rect","color":"#ffffff","opacity":0.18},
 "encoding":{"x":{"field":"a","type":"temporal","title":null},"x2":{"field":"b"},"y":{"field":"lo","type":"quantitative","title":null},"y2":{"field":"hi"}}},
{"data":{"name":"box"},"mark":{"type":"rule","color":"#d1d4dc","strokeWidth":2},
 "encoding":{"x":{"field":"a","type":"temporal","title":null},"x2":{"field":"b"},"y":{"field":"lo","type":"quantitative","title":null}}},
{"data":{"name":"box"},"mark":{"type":"rule","color":"#d1d4dc","strokeWidth":2},
 "encoding":{"x":{"field":"a","type":"temporal","title":null},"x2":{"field":"b"},"y":{"field":"hi","type":"quantitative","title":null}}},
{"data":{"name":"box"},"mark":{"type":"rule","color":"#e0e3eb","strokeWidth":1.3},
 "encoding":{"x":{"field":"m","type":"temporal","title":null},"y":{"field":"hi","type":"quantitative","title":null},"y2":{"field":"lo"}}},
{"data":{"name":"box"},"mark":{"type":"point","shape":"M-1,-1L0,0L1,-1","filled":false,"color":"#e0e3eb","strokeWidth":1.3,"size":70,"opacity":1},
 "encoding":{"x":{"field":"m","type":"temporal","title":null},"y":{"field":"lo","type":"quantitative","title":null}}},
{"data":{"name":"lab"},"mark":{"type":"rect","color":"#ffffff","cornerRadius":4},
 "encoding":{"x":{"field":"a","type":"temporal","title":null},"x2":{"field":"b"},"y":{"field":"lo","type":"quantitative","title":null},"y2":{"field":"hi"}}},
{"data":{"name":"lab"},"mark":{"type":"text","color":"#131722","fontSize":12,"font":"Inter","align":"center","baseline":"middle"},
 "encoding":{"x":{"field":"m","type":"temporal","title":null},"y":{"field":"p","type":"quantitative","title":null},"text":{"field":"s"}}},
{"data":{"name":"tag"},"mark":{"type":"rect","color":"#089981","cornerRadius":2},
 "encoding":{"x":{"field":"a","type":"temporal","title":null},"x2":{"field":"b"},"y":{"field":"lo","type":"quantitative","title":null},"y2":{"field":"hi"}}},
{"data":{"name":"tag"},"mark":{"type":"text","color":"#ffffff","fontSize":12,"font":"Inter","align":"left","baseline":"middle"},
 "encoding":{"x":{"field":"m","type":"temporal","title":null},"y":{"field":"p","type":"quantitative","title":null},"text":{"field":"s"}}},
{"data":{"name":"tag"},"mark":{"type":"text","color":"#ffffff","fontSize":12,"font":"Inter","align":"left","baseline":"middle"},
 "encoding":{"x":{"field":"m","type":"temporal","title":null},"y":{"field":"q","type":"quantitative","title":null},"text":{"field":"u"}}},
{"data":{"name":"hdr"},"mark":{"type":"text","align":"left","baseline":"middle","fontSize":11,"font":"Inter","clip":true},
 "encoding":{"x":{"field":"t","type":"temporal","title":null},"y":{"field":"p","type":"quantitative","title":null},"text":{"field":"s"},
  "color":{"field":"k","type":"nominal","scale":{"domain":["g","u","b","w","p","y"],"range":["#b2b5be","#22ab94","#2962ff","#d1d4dc","#7e57c2","#e2c731"]},"legend":null}}},
{"data":{"values":[{}]},"mark":{"type":"rect","color":"#1e222d"},
 "encoding":{"x":{"datum":{"year":2022,"month":2,"date":6,"hours":15,"utc":true},"type":"temporal"},"x2":{"datum":{"year":2022,"month":2,"date":10,"hours":14,"utc":true}},"y":{"datum":4.0547e-5,"type":"quantitative"},"y2":{"datum":9.24e-7}}},
{"data":{"values":[{}]},"mark":{"type":"rect","color":"#1e222d"},
 "encoding":{"x":{"datum":{"year":2022,"month":12,"date":17,"hours":3,"utc":true},"type":"temporal"},"x2":{"datum":{"year":2022,"month":12,"date":21,"hours":2,"utc":true}},"y":{"datum":4.0547e-5,"type":"quantitative"},"y2":{"datum":9.24e-7}}}
]
},
{
"width":697,"height":80,
"layer":[
{"data":{"values":[{}]},"mark":{"type":"rect","color":"#7e57c2","opacity":0.12},
 "encoding":{"y":{"datum":70,"type":"quantitative","scale":{"domain":[15.24,91.43],"nice":false,"zero":false},
   "axis":{"orient":"right","values":[40,80],"format":".2f","grid":true,"labelPadding":9,"title":null}},"y2":{"datum":30}}},
{"data":{"name":"lv"},"mark":{"type":"rule","color":"#787b86","strokeDash":[5,4],"strokeWidth":1,"opacity":0.9},
 "encoding":{"y":{"field":"v","type":"quantitative","title":null}}},
{"data":{"name":"rsi"},"mark":{"type":"line","color":"#7e57c2","strokeWidth":1.3},
 "encoding":{
  "x":{"field":"t","type":"temporal","title":null,"scale":{"type":"utc","nice":false,"domain":[{"year":2022,"month":2,"date":6,"hours":15,"utc":true},{"year":2022,"month":11,"date":10,"hours":5,"minutes":30,"utc":true}]},
   "axis":{"values":[{"year":2022,"month":4,"date":1,"utc":true},{"year":2022,"month":5,"date":1,"utc":true},{"year":2022,"month":6,"date":1,"utc":true},{"year":2022,"month":7,"date":1,"utc":true},{"year":2022,"month":8,"date":1,"utc":true},{"year":2022,"month":9,"date":1,"utc":true},{"year":2022,"month":10,"date":1,"utc":true},{"year":2022,"month":11,"date":1,"utc":true}],"format":"%b","grid":true,"labelPadding":13,"labelBaseline":"middle","labelFontWeight":600,"title":null}},
  "y":{"field":"r","type":"quantitative","title":null}}},
{"data":{"name":"rsma"},"mark":{"type":"line","color":"#e2c731","strokeWidth":1.5,"interpolate":"monotone"},
 "encoding":{"x":{"field":"t","type":"temporal","title":null},"y":{"field":"r","type":"quantitative","title":null}}},
{"data":{"name":"rh"},"mark":{"type":"text","align":"left","baseline":"middle","fontSize":11,"font":"Inter"},
 "encoding":{"x":{"field":"t","type":"temporal","title":null},"y":{"field":"p","type":"quantitative","title":null},"text":{"field":"s"},
  "color":{"field":"k","type":"nominal","scale":{"domain":["g","u","b","w","p","y"],"range":["#b2b5be","#22ab94","#2962ff","#d1d4dc","#7e57c2","#e2c731"]},"legend":null}}},
{"data":{"values":[{}]},"mark":{"type":"rule","color":"#2a2e39","strokeWidth":1},
 "encoding":{"x":{"datum":{"year":2022,"month":2,"date":6,"hours":15,"utc":true},"type":"temporal"},"x2":{"datum":{"year":2022,"month":12,"date":17,"hours":3,"utc":true}},"y":{"datum":91.43,"type":"quantitative"}}},
{"data":{"values":[{}]},"mark":{"type":"rect","color":"#1e222d"},
 "encoding":{"x":{"datum":{"year":2022,"month":2,"date":6,"hours":15,"utc":true},"type":"temporal"},"x2":{"datum":{"year":2022,"month":2,"date":10,"hours":14,"utc":true}},"y":{"datum":91.43,"type":"quantitative"},"y2":{"datum":-3.8}}},
{"data":{"values":[{}]},"mark":{"type":"rect","color":"#1e222d"},
 "encoding":{"x":{"datum":{"year":2022,"month":12,"date":17,"hours":3,"utc":true},"type":"temporal"},"x2":{"datum":{"year":2022,"month":12,"date":21,"hours":2,"utc":true}},"y":{"datum":91.43,"type":"quantitative"},"y2":{"datum":-3.8}}}
]
}
],
"resolve":{"scale":{"x":"independent","y":"independent","color":"independent"}}
}
